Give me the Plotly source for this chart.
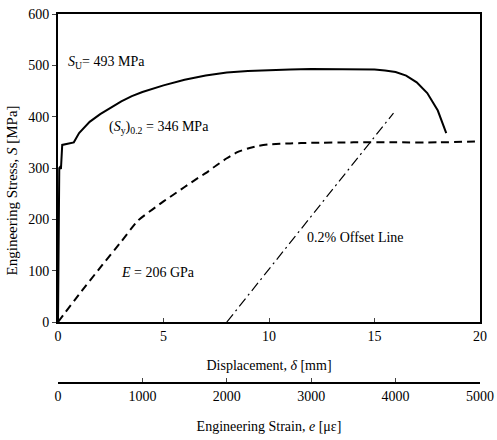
import plotly.graph_objects as go

# Engineering stress vs displacement (solid curve)
disp_solid = [0, 0.06, 0.1, 0.14, 0.2, 0.5, 0.75, 1.0, 1.5, 2.0, 2.5, 3.0, 3.5, 4.0, 5.0,
              6.0, 7.0, 8.0, 9.0, 10.0, 11.0, 12.0, 13.0, 14.0, 15.0, 15.5, 16.0, 16.5,
              17.0, 17.5, 18.0, 18.4]
stress_solid = [0, 300, 302, 298, 345, 347, 350, 368, 390, 405, 418, 430, 440, 448, 461,
                472, 480, 486, 489, 491, 492, 493, 493, 493, 492, 490, 487, 480,
                467, 446, 412, 368]

# Stress vs strain (dashed curve, plotted on the displacement scale)
disp_dashed = [0, 1, 2, 3, 3.8, 4.5, 5, 5.5, 6, 6.5, 7, 7.5, 8, 8.5, 9, 9.5, 10, 11, 12,
               14, 16, 18, 20]
stress_dashed = [0, 54, 106, 157, 198, 220, 235, 249, 263, 277, 290, 305, 319, 331, 338,
                 343, 346, 348, 349, 350, 350, 350, 352]

# 0.2% offset line
offset_x = [8.0, 15.9]
offset_y = [0, 407]

disp_ticks = [0, 5, 10, 15, 20]
strain_ticks = [0, 1000, 2000, 3000, 4000, 5000]
stress_ticks = [0, 100, 200, 300, 400, 500, 600]

FONT = "Liberation Serif"

fig = go.Figure()
fig.add_trace(go.Scatter(x=disp_solid, y=stress_solid, mode="lines",
                         line=dict(color="black", width=2), showlegend=False))
fig.add_trace(go.Scatter(x=disp_dashed, y=stress_dashed, mode="lines",
                         line=dict(color="black", width=2, dash="8px,5px",
                                   shape="spline", smoothing=0.6), showlegend=False))
fig.add_trace(go.Scatter(x=offset_x, y=offset_y, mode="lines",
                         line=dict(color="black", width=1.2, dash="10px,4px,2px,4px"),
                         showlegend=False))
fig.add_trace(go.Scatter(x=[0, 5000], y=[None, None], xaxis="x2", yaxis="y",
                         mode="lines", showlegend=False, hoverinfo="skip"))

annots = [
    dict(x=0.38, y=505, text="<i>S</i><sub>U</sub>= 493 MPa"),
    dict(x=2.33, y=378, text="(<i>S</i><sub>y</sub>)<sub>0.2</sub> = 346 MPa"),
    dict(x=2.88, y=97, text="<i>E</i> = 206 GPa"),
    dict(x=11.7, y=164, text="0.2% Offset Line"),
]
for a in annots:
    fig.add_annotation(x=a["x"], y=a["y"], text=a["text"], xref="x", yref="y",
                       xanchor="left", yanchor="middle", showarrow=False,
                       font=dict(family=FONT, size=14, color="black"))

# y-axis title placed as a rotated annotation (matches reference position)
fig.add_annotation(x=-0.109, y=0.578, xref="paper", yref="paper",
                   text="Engineering Stress, <i>S</i> [MPa]", textangle=-90,
                   showarrow=False, xanchor="center", yanchor="middle",
                   font=dict(family=FONT, size=15, color="black"))

fig.update_layout(
    width=497, height=440,
    margin=dict(l=58, r=17, t=14, b=8),
    paper_bgcolor="white", plot_bgcolor="white",
    font=dict(family=FONT, size=14, color="black"),
    xaxis=dict(range=[0, 20], tickvals=disp_ticks, ticks="inside", ticklen=4,
               showline=True, linewidth=2, linecolor="black", mirror=True,
               showgrid=False, zeroline=False, anchor="y", automargin=False,
               title=dict(text="Displacement, <i>δ</i> [mm]", standoff=17,
                          font=dict(family=FONT, size=14))),
    xaxis2=dict(range=[0, 5000], tickvals=strain_ticks, ticks="inside", ticklen=4,
                showline=True, linewidth=1.5, linecolor="black",
                showgrid=False, zeroline=False, overlaying="x", anchor="free",
                position=0.117, side="bottom", automargin=False,
                title=dict(text="Engineering Strain, <i>e</i> [με]", standoff=18,
                           font=dict(family=FONT, size=14))),
    yaxis=dict(range=[0, 600], tickvals=stress_ticks, ticks="outside", ticklen=4,
               showline=True, linewidth=2, linecolor="black", mirror=True,
               showgrid=False, zeroline=False, domain=[0.263, 1], automargin=False),
)

fig.write_html("out.html",
               config={"displayModeBar": False},
               post_script="document.body.style.margin='0';document.body.style.overflow='hidden';")
